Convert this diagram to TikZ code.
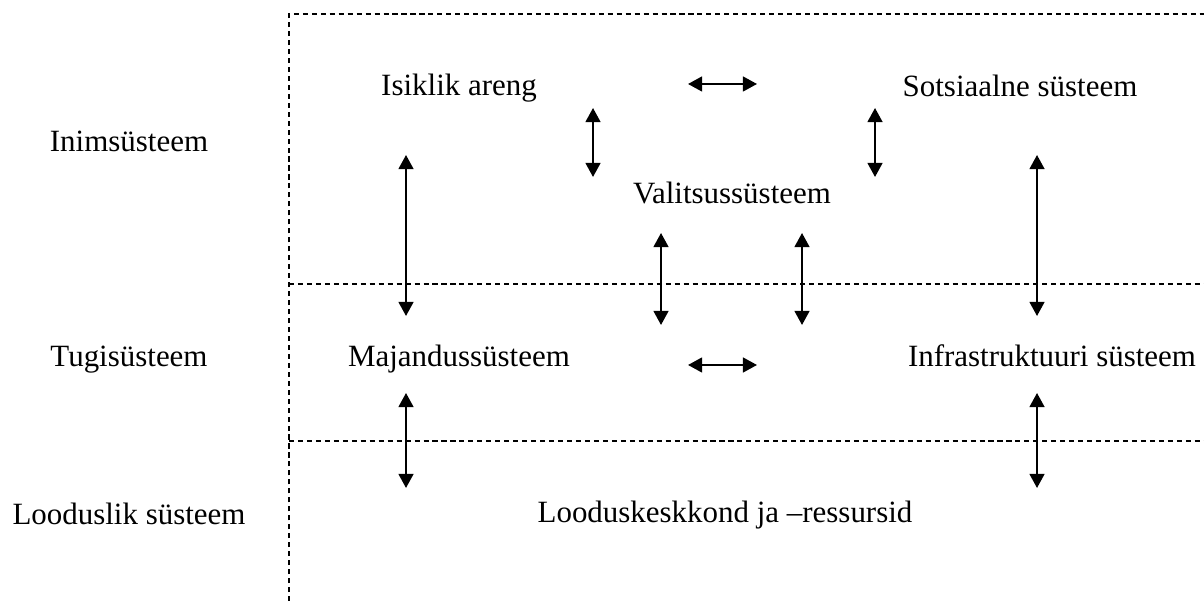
\documentclass[tikz,border=0pt]{standalone}
\usepackage{fontspec}
\setmainfont{Liberation Serif}
\usetikzlibrary{
  arrows.meta,
  positioning,
}
\tikzset{
  >={Triangle[length=4pt,width=4.2pt]},
  layer/.style={line width=0.45pt, dash pattern=on 1.45pt off 1.1pt},
  link/.style={<->, line width=0.6pt},
  sys/.style={font=\fontsize{8.8}{10.5}\selectfont, inner sep=0pt, anchor=base},
}

\begin{document}
\begin{tikzpicture}[x=0.01cm, y=-0.01cm]
      \useasboundingbox (0,0) rectangle (1204,601);
      % levels
      \coordinate (TL) at (289,14);
      \coordinate (TR) at (1204,14);
      \coordinate (BL) at (289,601);
      \coordinate (ML) at (289,284);
      \coordinate (MR) at (1204,284);
      \coordinate (LL) at (289,441);
      \coordinate (LR) at (1204,441);
      \draw[layer] (BL) -- (TL) -- (TR);
      \draw[layer] (ML) -- (MR);
      \draw[layer] (LL) -- (LR);

      \node[sys] (inim) at (129,152) {Inimsüsteem};
      \node[sys] (tugi) at (129,367) {Tugisüsteem};
      \node[sys] (lood) at (129,525) {Looduslik süsteem};

      \node[sys] (isik)  at (459,96)   {Isiklik areng};
      \node[sys] (sots)  at (1020,97)  {Sotsiaalne süsteem};
      \node[sys] (valit) at (732,204)  {Valitsussüsteem};
      \node[sys] (maj)   at (459,367)  {Majandussüsteem};
      \node[sys] (infra) at (1052,367) {Infrastruktuuri süsteem};
      \node[sys] (kesk)  at (725,523)  {Looduskeskkond ja –ressursid};

      % arrows between the systems
      \foreach \n/\xa/\ya/\xb/\yb in {
        isots/688/84/757/84,
        mainf/688/365/757/365,
        ival/593/108/593/177,
        sval/875/108/875/177,
        imaj/406/155/406/316,
        sinf/1037/155/1037/316,
        vmaj/661/233/661/325,
        vinf/802/233/802/325,
        mkesk/406/393/406/488,
        ikesk/1037/393/1037/488
      } {
        \coordinate (\n-a) at (\xa,\ya);
        \coordinate (\n-b) at (\xb,\yb);
        \draw[link] (\n-a) -- (\n-b);
      }
\end{tikzpicture}
\end{document}
